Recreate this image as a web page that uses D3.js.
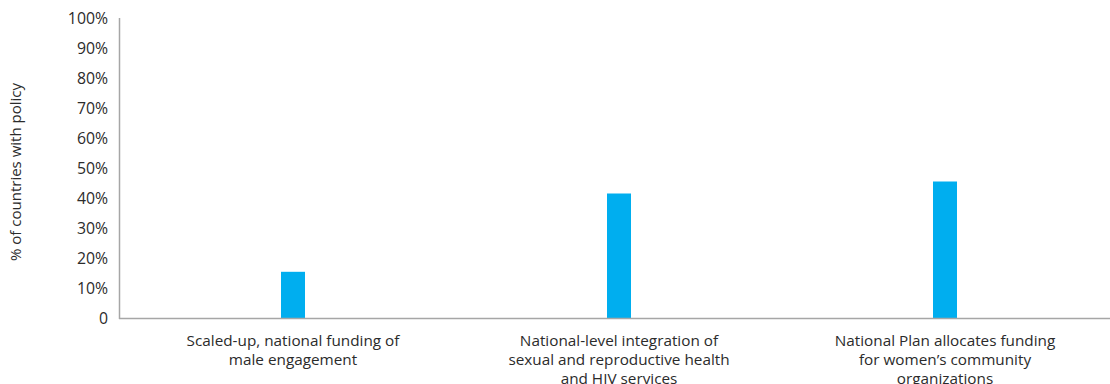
<!DOCTYPE html>
<html>
<head>
<meta charset="utf-8">
<script src="https://cdn.jsdelivr.net/npm/d3@7"></script>
<style>
  body { margin: 0; background: #fff; }
  text { font-family: "Open Sans", Lato, sans-serif; fill: #2b2b2b; }
</style>
</head>
<body>
<script>
var width = 1110;
var height = 384;

// chart data
var categories = [
    ["Scaled-up, national funding of", "male engagement"],
    ["National-level integration of", "sexual and reproductive health", "and HIV services"],
    ["National Plan allocates funding", "for women\u2019s community", "organizations"]
];
var values = [15.4, 41.5, 45.5];
var yTicks = [0, 10, 20, 30, 40, 50, 60, 70, 80, 90, 100];
var yTitle = "% of countries with policy";

var axisX = 119, plotTop = 18, plotBottom = 318;

var svg = d3.select("body").append("svg")
    .attr("width", width)
    .attr("height", height);

var x = d3.scaleBand().domain(d3.range(values.length)).range([130, 1108]);
var y = d3.scaleLinear().domain([0, 100]).range([plotBottom, plotTop]);
var barW = 24;

//y tick labels
svg.append("g").selectAll("text").data(yTicks).enter().append("text")
    .attr("x", 108)
    .attr("y", function (d) { return y(d); })
    .attr("dy", "0.35em")
    .attr("text-anchor", "end")
    .style("font-size", "15.8px")
    .text(function (d) { return d === 0 ? "0" : d + "%"; });

//y title
svg.append("text")
    .attr("transform", "translate(21," + ((plotTop + plotBottom) / 2 + 4) + "),rotate(-90)")
    .attr("text-anchor", "middle")
    .style("font-size", "15px")
    .text(yTitle);

//bars
svg.selectAll(".bar").data(values).enter().append("rect")
    .attr("class", "bar")
    .attr("x", function (d, i) { return x(i) + x.bandwidth() / 2 - barW / 2; })
    .attr("y", function (d) { return y(d); })
    .attr("width", barW)
    .attr("height", function (d) { return plotBottom - y(d); })
    .attr("fill", "#00AEEF");

//axes lines
svg.append("line")
    .attr("x1", axisX + 0.5).attr("x2", axisX + 0.5)
    .attr("y1", plotTop).attr("y2", plotBottom + 1)
    .attr("stroke", "#a6a6a6").attr("stroke-width", 1.5);
svg.append("line")
    .attr("x1", axisX).attr("x2", width)
    .attr("y1", plotBottom + 0.5).attr("y2", plotBottom + 0.5)
    .attr("stroke", "#a6a6a6").attr("stroke-width", 1.5);

//category labels
var labels = svg.append("g").selectAll("text").data(categories).enter().append("text")
    .attr("text-anchor", "middle")
    .style("font-size", "15.3px");
labels.selectAll("tspan").data(function (d, i) { return d.map(function (t) { return {t: t, i: i}; }); })
    .enter().append("tspan")
    .attr("x", function (d) { return x(d.i) + x.bandwidth() / 2; })
    .attr("y", function (d, j) { return 346 + j * 19; })
    .text(function (d) { return d.t; });
</script>
</body>
</html>
